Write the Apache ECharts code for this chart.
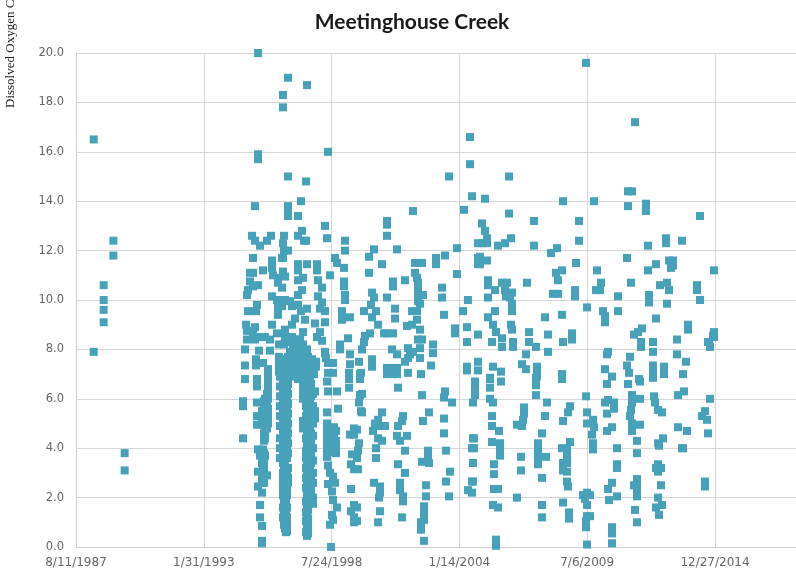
<!DOCTYPE html>
<html><head><meta charset="utf-8">
<script src="https://cdn.jsdelivr.net/npm/echarts@6/dist/echarts.min.js"></script>
<style>html,body{margin:0;padding:0;background:#fff;overflow:hidden}#c{width:796px;height:575px}</style>
</head><body><div id="c"></div>
<script>
const chartTitle = "Meetinghouse Creek";
const yTitle = "Dissolved Oxygen C";
const xTickDays = [32000,34000,36000,38000,40000,42000];
const xTickLabels = ["8/11/1987","1/31/1993","7/24/1998","1/14/2004","7/6/2009","12/27/2014"];
// Each row: [sample day (spreadsheet serial), dissolved oxygen readings...]
const rows1987 = [[32277,16.5,7.9],[32433,10.6,10.0,9.6,9.1],[32584,12.4,11.8],[32762,3.8,3.1]];
const rows1994 = [
[34614,4.4,5.9,5.7],[34645,8.0,7.35,6.8],[34661,9.0],[34676,10.2,8.75,8.4],[34692,10.4,9.55],[34723,11.1,10.75],
[34754,12.6],[34770,11.7,11.1,10.55,8.65],[34801,13.8,12.4,8.9,8.4],[34817,9.55,7.6,7.35],[34833,9.8,6.8,6.5,5.85,5.3,4.95],
[34848,20,15.9,15.7,10.6,3.95,3.05,2.45],[34864,7.95],[34880,12.2,8.5,3.7,1.7,1.2],
[34911,5.5,5.2,3.4,2.75,2.2,0.85,0.25,0.15],[34927,11.2,7.45,4.95,3.95,3.15,3.55,2.6],[34942,5.9,5.6,5.0,4.6,4.3,3.8,3.5,3.2,3.0,2.6],
[34958,8.5,6.0,4.7,4.4,3.7],[34989,12.4,2.9,6.2,5.8,5.4,5.1,4.8],
[35005,7.2,6.9,6.6,6.3,6.0,5.6,5.3,5.0],[35036,8.4,7.95],[35052,12.6],[35067,11.6,11.3,10.15,9.0],[35083,11.0]];
const rows1995 = [
[35146,10.0,8.65],[35161,10.9,10.7,9.7,9.4],[35177,8.2,7.7,7.4,7.1],[35193,6.9,6.5,6.1,5.7,5.3,4.9,4.4,4.0,3.6],[35208,7.5,7.2,6.9],
[35224,11.7,10.5,9.75],[35239,18.3,17.8,12.3,11.7,11.15,6.8,6.3,5.9,5.5,5.1,4.7,4.2,3.8,3.4,3.0,2.7,2.4,2.1,1.6,1.2],
[35255,12.6,12.0,8.2,7.6,7.3,7.0,6.7,6.4,6.1,5.8,5.5,5.2,4.9,4.6,3.9,3.6,3.3,2.9,2.6,2.3,2.0,1.7,1.4,1.1,0.9],
[35271,10.95,10.0,8.8,8.5,7.1,6.6,6.2,5.6,5.3,5.0,4.7,4.3,4.1,3.7,3.4,3.1,2.7,2.5,2.15,1.9,1.55,1.25,1.0,0.75],
[35286,8.3,7.5,7.2,2.2,1.8,1.4,1.0,0.8,0.6],[35302,6.9,6.3,5.9,5.6,5.2,4.8,4.4,4.0,3.6,3.0,2.4,2.1,1.6,1.2,0.95,0.65],
[35318,19,15,13.8,13.6,13.4,12,7.7,7.0,6.6,6.2,5.8,5.4,5.0,4.6,4.2,3.8,3.2,2.8,2.6],
[35349,9.95,7.9,7.5,7.2,6.9],[35380,9.75,9.0,8.5,7.7,7.3,7.0],[35396,8.2],[35412,7.6,7.2,8.0],[35427,9.25,7.85],[35443,7.4,7.1,8.1],[35459,8.4],
[35474,13.4,12.6,11.45,11.2,10.8,10.2,9.8,7.7,7.3,7.0,6.8,8.0],[35506,7.65,7.3,7.0,8.4],[35521,14,9.55],[35537,12.8,10.4,7.5,7.1,6.8],
[35553,10.9,8.7,8.2,6.5,6.2,6.0,5.1,4.8],[35568,12.4,7.9,7.4,7.0],[35584,9.2,7.8],[35600,14.8,12.4,7.6,7.2,6.9,5.7,5.3,4.9,4.4,3.9,3.6,3.2,2.8,2.4,1.85,1.4,1.05,0.6]];
const rows1996 = [
[35615,18.7,11.45,9.65,8.0,6.6,6.2,5.8,5.4,5.0,4.6,4.2,3.8,3.4,3.1,2.5,2.2,2.0,1.7,1.3,1.0,0.7,0.45],
[35631,7.7,7.3,6.9,6.4,6.0,5.6,5.2,4.9,4.5,4.1,3.7,3.3,3.0,2.7,2.3,1.9,1.5,1.15,0.85,0.55],
[35662,7.4,7.1,6.8,6.4,6.0,5.6,5.2,4.8,4.4,4.0,3.6,3.2,2.9,2.4,2.1,1.8],[35678,6.6,6.1,5.7,5.3,5.0,4.6,4.2,3.8,3.4,3.0,2.7,2.3,2.0],[35693,7.6,7.2],
[35709,7.0,6.2,5.7,5.4,5.0,4.5,4.0,3.5,3.0,2.6,2.0,1.75],[35725,7.4,7.0],[35740,9.05,6.3,5.5,5.2],[35756,7.3,7.5],
[35772,11.45,11.2,8.5],[35787,10.8,10.15],[35819,9.65,8.7],[35850,10.5,9.9,8.35],[35897,13.0,9.55,9.1,7.9,7.85],
[35912,7.65],[35928,12.5,6.7,5.45,5.0,4.9,4.7,4.5,4.4,4.2,4.1,3.9,3.65],[35944,16,7.45,7.05,6.3,3.3,2.55],[35975,11.0,3.0,0.9],
[35991,4.8,4.5,4.2,3.9,0.0],[36006,2.25,1.3],[36022,7.45,7.05,2.85,1.9,1.1],[36038,4.85,4.6,4.2,3.85],[36053,11.7,2.6],
[36069,4.7,4.3,4.0,3.8],[36085,11.5,6.3,1.6],[36100,5.6]];
const rows1998 = [
[36132,8.2,8.0,8.15],[36163,9.55,9.3,9.2],[36194,11.3,10.75,10.55],[36210,12.4,12,10.2,10.0],[36257,8.45],[36273,7.05,6.8,6.45],
[36288,9.3,7.8,7.4,4.55],[36304,3.35,2.35,1.45],[36320,3.75],[36351,4.8,4.55,3.15,1.7,1.2,1.0],[36398,3.6,4.75,1.6,1.05],
[36413,3.9,3.15],[36429,7.5,5.85,4.2],[36445,7.0,6.8,6.15],[36460,7.05,5.5],[36476,8.0,6.2,5.45],[36507,9.55,8.3],[36523,8.55],
[36586,11.75,11.1],[36601,8.65],[36617,9.8],[36633,10.3,9.3,7.6,7.3],[36648,4.7],[36664,12.05,10.1,2.6],[36680,5.0],
[36695,9.55,4.0,3.6],[36727,9.0,5.15,4.9,4.4,1.0],[36742,2.0],[36758,2.45,2.2,1.45],[36789,11.45,5.45,4.3],[36821,8.65],[36836,4.9],
[36867,13.2,13.05,12.6,10.1,8.65,7.25,7.0],[36946,8.0,7.25,7.0],[36961,10.75,10.55,8.65],[36993,9.65,9.25],
[37024,12.05,7.8,7.25,7.0,4.5],[37039,6.45,4.9,3.35]];
const rows2000 = [
[37071,4.3,2.6,2.3],[37102,5.1,1.2],[37118,5.3,2.05,1.85],[37149,10.8,7.5,3.9,3.0],[37180,8.95,4.5],[37196,8.05,7.65,7.05],[37227,7.8],
[37259,9.55,9.0],[37274,13.6,7.9],[37305,11.5,11.1],[37337,10.9,9.55,9.2],[37352,10.7,10.4,10.2,9.95,8.4],[37384,9.85,8.8,8.05,7.65],
[37399,7.0,1.0,0.7],[37415,11.5,8.4,6.15,3.45],[37430,10.2,5.1],[37446,1.65,1.4,1.1,0.25],[37477,2.5,2.05],[37509,3.9,3.6],[37524,5.45,3.4],
[37556,7.35],[37587,8.2,7.85],[37634,11.7,11.45],[37728,10.5,10.1],[37759,9.4,6.05,5.2,4.6],[37775,11.8,6.3],[37791,3.9,2.65],
[37838,15.0,2.05],[37853,3.05],[37885,5.85],[37932,8.85,8.65],[37963,12.1,11.05],[38057,9.55],[38072,13.65],
[38119,8.9,8.3,7.3,7.15],[38134,10.0,2.3],[38166,16.6,15.5]];
const rows2004 = [
[38197,14.2,4.0,2.65,2.2],[38213,5.85,4.4,3.4,2.65],[38228,4.4,4.0],[38244,6.7,6.45,6.15],[38291,12.3,11.7,11.45,8.6,7.5,7.15],
[38323,11.75,11.45],[38354,13.1,12.3],[38401,14.1,12.8],[38432,12.5,12.3,11.6],[38448,10.8,10.6,10.1,9.3],[38479,6.85,6.8,6.45,6.0],
[38510,8.3,5.3,4.9,4.25],[38526,9.0,7.3,5.85,1.7],[38541,3.35,2.95,2.35],[38557,10.4,9.55],[38573,8.7,0.3,0.05],[38604,12.2,2.35,1.6],
[38620,4.7],[38636,4.2,3.95,3.7],[38651,7.1,6.7],[38667,10.7,8.45,8.1],[38714,12.3,10.4],[38730,10.15],[38745,10.7],[38777,15,13.5],
[38792,10.1],[38808,12.5,9.0],[38823,10.3,9.85,9.55,8.8],[38839,8.3,8.1],[38902,4.95,2.0],[38964,3.65,3.1],[38980,7.4,4.9],[38996,5.15],
[39011,5.65,5.4],[39043,7.8,7.2],[39058,10.7],[39090,8.7,8.3],[39168,13.2,12.2],[39199,8.1,6.85,6.55,6.15],[39215,7.3,7.1,6.9],
[39230,4.2,3.95,3.65,3.35],[39293,4.6,2.8,1.7,1.2],[39340,9.3,5.3],[39356,3.65],[39372,5.85],[39387,8.6,7.9]];
const rows2008 = [
[39434,11.9],[39465,10.25],[39512,11.1],[39528,12.1],[39543,10.8,10.25],[39606,11.2,9.4,7.0,6.8,4.0],[39622,14.0,8.3,5.1,3.4,3.1,1.8],
[39684,3.95,3.7,3.4,3.05,2.65],[39700,5.45,2.45],[39716,1.4,1.15],[39731,5.7,4.25],[39762,8.65,8.4],[39809,10.4,10.15],[39825,11.5],
[39872,13.2,12.4],[39935,2.1],[39966,1.95],[39982,19.6,6.1,1.05,0.8],[39998,9.7,5.45,5.0,2.2,1.7,1.25,0.1],[40044,2.1,1.25],[40075,4.55],
[40091,5.15,4.2,3.95],[40107,14.0,4.85],[40138,10.4],[40154,11.2],[40201,10.4],[40216,10.7],[40248,9.55],[40279,9.35,9.1,7.2,5.85],
[40310,7.8,6.6,5.4,4.7],[40326,7.9,5.95,2.35],[40341,1.9],[40388,6.9,4.85,2.6,0.8,0.55,0.15],[40420,5.85,5.6],[40467,4.0,3.35,3.2,2.05],[40482,10.15,9.55]];
const rows2011 = [
[40623,11.7,7.35],[40639,14.4,13.8,6.6],[40655,7.05],[40670,7.7,5.3],[40686,10.7,5.55],[40701,14.4,6.15,5.85,5.0,4.7],[40733,8.6,2.5],
[40748,17.2,1.5],[40780,4.3,3.8,2.75,2.5,2.25,2.05,1.0],[40796,8.7],[40811,6.8],[40827,6.7,6.0,4.95],[40842,8.3,8.1],[40858,8.85],
[40920,13.9,13.8,13.6],[40952,12.2,11.2],[40968,10.2,9.9],[41030,8.3,7.9,7.35,7.05,6.85],[41046,6.1],[41061,5.85],[41077,11.45,9.25,3.2,1.6],
[41109,5.55,4.2,3.35,3.05,2.0],[41124,4.1,1.3],[41140,10.6],[41155,3.2,2.5],[41171,5.45,1.7],[41187,4.4],[41202,7.3,7.0],
[41234,12.5,12.3],[41249,10.7,9.85],[41281,11.6,10.4],[41312,11.3],[41343,11.6,11.4],[41406,8.4,7.8],[41421,6.15,4.85],[41484,12.4,4.0],
[41500,7.0,4.0],[41515,6.3],[41546,7.5],[41562,4.7],[41578,9.0,8.8]];
const rows2014 = [
[41719,10.6,10.4],[41766,13.4,10.0],[41797,5.3],[41844,5.5,2.65,2.45],[41875,5.15],[41891,8.3,4.6],[41906,8.3],[41922,8.1,6.0],[41969,8.55],
[41984,11.2,8.7,8.6,8.5]];

const allRows = [].concat(rows1987, rows1994, rows1995, rows1996, rows1998, rows2000, rows2004, rows2008, rows2011, rows2014);
const points = [];
allRows.forEach(r => { for (let i = 1; i < r.length; i++) points.push([r[0], r[i]]); });

const chart = echarts.init(document.getElementById('c'), null, {renderer:'canvas'});
const labelFont = '"DejaVu Sans",sans-serif';
chart.setOption({
  animation:false,
  backgroundColor:'#fff',
  title:{text:chartTitle,left:407,top:7,textAlign:'center',
    textStyle:{fontFamily:'Lato,sans-serif',fontWeight:'bold',fontSize:21,color:'#1a1a1a'}},
  grid:{left:76,right:0,top:53,bottom:28},
  xAxis:{type:'value',min:32000,max:43268,interval:2000,
    axisLine:{show:true,onZero:false,lineStyle:{color:'#cfcfcf',width:1}},
    axisTick:{show:false},
    splitLine:{show:true,lineStyle:{color:'#d6d6d6',width:1}},
    axisLabel:{margin:10,fontSize:12,color:'#666',fontFamily:labelFont,showMinLabel:true,showMaxLabel:false,
      formatter:v=>{const i=xTickDays.indexOf(v);return i<0?'':xTickLabels[i];}}},
  yAxis:{type:'value',min:0,max:20,interval:2,
    axisLine:{show:true,lineStyle:{color:'#d0d0d0',width:1}},
    axisTick:{show:false},
    splitLine:{show:true,lineStyle:{color:'#d6d6d6',width:1}},
    axisLabel:{margin:12,fontSize:11.5,color:'#666',fontFamily:labelFont,formatter:v=>v.toFixed(1)}},
  graphic:[{type:'text',x:4,y:108,rotation:Math.PI/2,
    style:{text:yTitle,fontFamily:'"Liberation Serif",serif',fontSize:13,fill:'#222',textAlign:'left',textVerticalAlign:'top'}}],
  series:[{type:'scatter',data:points,symbol:'rect',symbolSize:8,clip:false,
    itemStyle:{color:'#46a1b9',opacity:1}}]
});
</script></body></html>
